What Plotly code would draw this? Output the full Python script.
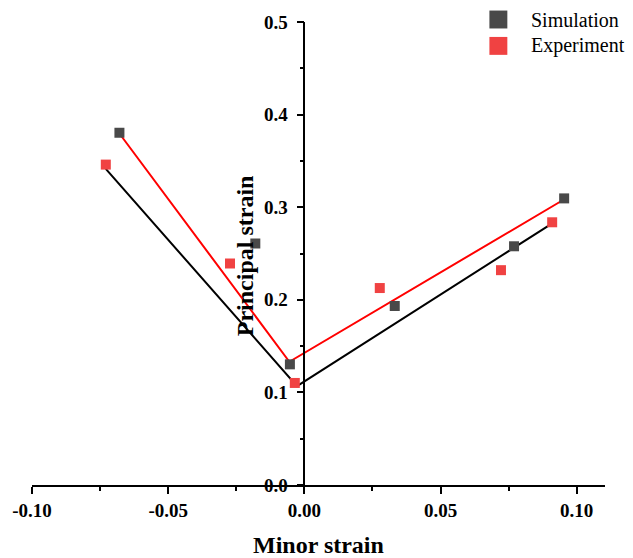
import plotly.graph_objects as go

# Scatter data
sim_x = [-0.0679, -0.0180, -0.0053, 0.0332, 0.0770, 0.0954]
sim_y = [0.3804, 0.2608, 0.1303, 0.1933, 0.2578, 0.3095]
exp_x = [-0.0729, -0.0273, -0.0035, 0.0277, 0.0722, 0.0910]
exp_y = [0.3460, 0.2392, 0.1102, 0.2127, 0.2320, 0.2837]

# Fitted piecewise lines
red_line_x = [-0.0679, -0.0055, 0.0964]
red_line_y = [0.3796, 0.1331, 0.3102]
black_line_x = [-0.0729, -0.0027, 0.0916]
black_line_y = [0.3414, 0.1067, 0.2837]

legend_names = ["Simulation", "Experiment"]
x_ticks = [-0.10, -0.05, 0.00, 0.05, 0.10]
x_tick_text = ["-0.10", "-0.05", "0.00", "0.05", "0.10"]
y_ticks = [0.0, 0.1, 0.2, 0.3, 0.4, 0.5]
y_tick_text = ["0.0", "0.1", "0.2", "0.3", "0.4", "0.5"]

SIM_COLOR = "#494949"
EXP_COLOR = "#F04242"
FONT = "Liberation Serif, Times New Roman, serif"

W, H = 633, 558
L, R, T, B = 30, 28, 20, 73
XR = [-0.10, 0.1104]
YR = [0.0, 0.5]

fig = go.Figure()
fig.add_trace(go.Scatter(x=black_line_x, y=black_line_y, mode="lines",
                         line=dict(color="black", width=2), showlegend=False, hoverinfo="skip"))
fig.add_trace(go.Scatter(x=red_line_x, y=red_line_y, mode="lines",
                         line=dict(color="#FF0000", width=2), showlegend=False, hoverinfo="skip"))
fig.add_trace(go.Scatter(x=exp_x, y=exp_y, mode="markers", name=legend_names[1],
                         marker=dict(symbol="square", size=10, color=EXP_COLOR), showlegend=False))
fig.add_trace(go.Scatter(x=sim_x, y=sim_y, mode="markers", name=legend_names[0],
                         marker=dict(symbol="square", size=10, color=SIM_COLOR), showlegend=False))

pw = W - L - R
ph = H - T - B
ypos = (0 - XR[0]) / (XR[1] - XR[0])

fig.update_layout(
    width=W, height=H,
    margin=dict(l=L, r=R, t=T, b=B),
    paper_bgcolor="white", plot_bgcolor="white",
    font=dict(family=FONT, color="black"),
    xaxis=dict(range=XR, showgrid=False, zeroline=False, showline=True,
               linecolor="black", linewidth=1.5, ticks="outside", ticklen=7,
               tickwidth=1.5, tickcolor="black",
               tickvals=x_ticks, ticktext=["<b>%s</b>" % t for t in x_tick_text],
               tickfont=dict(family=FONT, size=19, color="black"),
               minor=dict(ticks="outside", ticklen=4, tickwidth=1.5, tickcolor="black", dtick=0.025, tick0=0),
               anchor="y"),
    yaxis=dict(range=YR, showgrid=False, zeroline=False, showline=True,
               linecolor="black", linewidth=1.5, ticks="outside", ticklen=7,
               tickwidth=1.5, tickcolor="black",
               tickvals=y_ticks, ticktext=["<b>%s</b>" % t for t in y_tick_text],
               tickfont=dict(family=FONT, size=19, color="black"),
               ticklabelstandoff=5,
               minor=dict(ticks="outside", ticklen=4, tickwidth=1.5, tickcolor="black", dtick=0.05, tick0=0),
               anchor="free", position=ypos),
)

# Axis titles
fig.add_annotation(text="<b>Minor strain</b>", xref="paper", yref="paper",
                   x=(317 - L) / pw, y=(H - B - 545) / ph, showarrow=False,
                   xanchor="center", yanchor="middle",
                   font=dict(family=FONT, size=24, color="black"))
fig.add_annotation(text="<b>Principal strain</b>", xref="paper", yref="paper",
                   x=(244 - L) / pw, y=(H - B - 255) / ph, showarrow=False,
                   textangle=-90, xanchor="center", yanchor="middle",
                   font=dict(family=FONT, size=24, color="black"))

# Manual legend
for name, color, cy in [(legend_names[0], SIM_COLOR, 17.5), (legend_names[1], EXP_COLOR, 44)]:
    cx = 498
    fig.add_shape(type="rect", xref="paper", yref="paper",
                  x0=(cx - 9 - L) / pw, x1=(cx + 9 - L) / pw,
                  y0=(H - B - (cy + 9)) / ph, y1=(H - B - (cy - 9)) / ph,
                  fillcolor=color, line=dict(width=0))
    fig.add_annotation(text=name, xref="paper", yref="paper",
                       x=(529 - L) / pw, y=(H - B - cy) / ph, showarrow=False,
                       xanchor="left", yanchor="middle",
                       font=dict(family=FONT, size=20, color="black"))

fig.write_html("out.html")
